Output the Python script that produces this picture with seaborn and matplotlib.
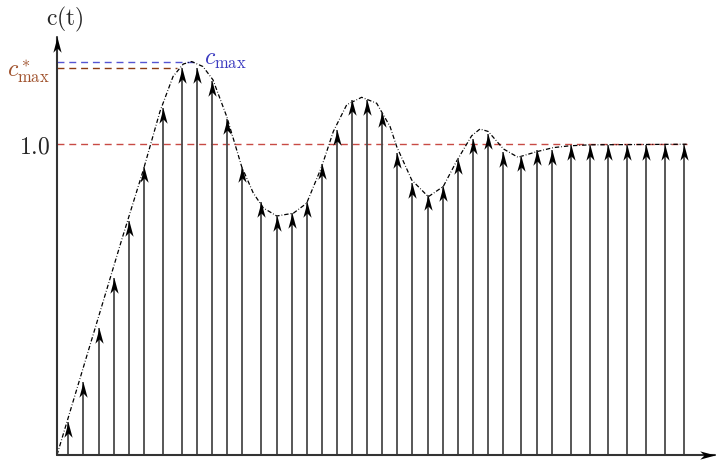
import numpy as np
import seaborn as sns
import matplotlib.pyplot as plt
from matplotlib.path import Path

# sample instants and sampled output c*(t)
t_samp = [0.74, 1.72, 2.73, 3.72, 4.72, 5.70, 6.93, 8.20, 9.16, 10.16,
          11.17, 12.15, 13.38, 14.41, 15.39, 16.37, 17.36, 18.34, 19.32, 20.33,
          21.31, 22.30, 23.30, 24.31, 25.29, 26.28, 27.26, 28.24, 29.25, 30.43,
          31.48, 32.46, 33.69, 34.93, 36.15, 37.38, 38.60, 39.85, 41.10]
c_samp = [0.107, 0.236, 0.410, 0.568, 0.753, 0.926, 1.116, 1.245, 1.245, 1.204,
          1.081, 0.926, 0.814, 0.769, 0.780, 0.814, 0.935, 1.046, 1.143, 1.143,
          1.105, 0.971, 0.874, 0.835, 0.864, 0.952, 1.018, 1.032, 0.976, 0.962,
          0.982, 0.982, 0.997, 0.997, 0.997, 0.997, 0.997, 0.997, 0.997]

# continuous response c(t)
t_cont = [0.0, 4.24, 5.66, 6.75, 7.61, 8.28, 8.83, 9.57, 10.23, 11.13,
          12.11, 12.87, 13.53, 14.41, 15.50, 16.37, 17.36, 18.12, 19.00, 19.98,
          20.96, 21.84, 22.28, 23.26, 24.35, 25.33, 26.21, 27.19, 27.74, 28.28,
          29.27, 30.23, 31.46, 32.54, 33.64, 34.95, 41.29]
c_cont = [0.0, 0.692, 0.917, 1.105, 1.218, 1.258, 1.266, 1.250, 1.207, 1.089,
          0.928, 0.843, 0.795, 0.769, 0.778, 0.810, 0.928, 1.041, 1.127, 1.151,
          1.132, 1.057, 0.992, 0.885, 0.831, 0.864, 0.946, 1.027, 1.049, 1.041,
          0.985, 0.958, 0.976, 0.989, 0.995, 0.998, 1.0]

c_final = 1.0
c_max = 1.266
c_star_max = 1.245

sns.set_theme(style='white')
plt.rcParams['mathtext.fontset'] = 'cm'
plt.rcParams['font.family'] = ['DejaVu Serif']

fig = plt.figure(figsize=(7.2, 4.63), dpi=100)
ax = fig.add_axes([57 / 720, 8 / 463, 658 / 720, 418 / 463])
ax.set_xlim(0, 43.15)
ax.set_ylim(0, 1.345)
for s in ax.spines.values():
    s.set_visible(False)
ax.set_xticks([])

# reference lines
dash = (0, (5, 3.5))
ax.plot([0, 41.3], [c_final, c_final], color='#c84a44', lw=1.0, ls=dash)
ax.plot([0, 9.2], [c_max, c_max], color='#5555d2', lw=1.0, ls=dash)
ax.plot([0, 7.9], [c_star_max, c_star_max], color='#8c3a12', lw=1.0, ls=dash)

# continuous response
sns.lineplot(x=t_cont, y=c_cont, ax=ax, color='black', lw=0.9,
             linestyle=(0, (3.5, 1.6, 0.6, 1.6)), sort=False)

# stealth arrow heads (tip at the data point)
codes = [Path.MOVETO, Path.LINETO, Path.LINETO, Path.LINETO, Path.CLOSEPOLY]
head_up = Path([(0, 0), (-0.27, -1), (0, -0.72), (0.27, -1), (0, 0)], codes)
head_right = Path([(0, 0), (-1, 0.27), (-0.72, 0), (-1, -0.27), (0, 0)], codes)

# sampled impulses
ax.vlines(t_samp, 0, c_samp, color='#4a4a4a', lw=1.3)
ax.scatter(t_samp, c_samp, marker=head_up, s=22 ** 2, color='black',
           linewidths=0, zorder=5)

# axes with arrows
ax.plot([0, 1], [0, 0], transform=ax.transAxes, color='#333333', lw=1.5,
        clip_on=False)
ax.plot([0, 0], [0, 1], transform=ax.transAxes, color='#333333', lw=1.5,
        clip_on=False)
ax.scatter([0], [1], marker=head_up, s=22 ** 2, color='black', linewidths=0,
           transform=ax.transAxes, clip_on=False, zorder=6)
ax.scatter([1], [0], marker=head_right, s=22 ** 2, color='black', linewidths=0,
           transform=ax.transAxes, clip_on=False, zorder=6)

ax.set_yticks([c_final, c_star_max])
ax.set_yticklabels([r'$1.0$', r'$c^*_{\max}$'], fontsize=17)
ax.get_yticklabels()[1].set_color('#a0522d')
ax.tick_params(axis='y', length=0, pad=5)

ax.text(0.5, 1.355, r'$\mathrm{c(t)}$', fontsize=17, ha='center', va='bottom',
        clip_on=False)
ax.text(9.65, c_max + 0.008, r'$c_{\max}$', fontsize=17, color='#3a3ac0',
        ha='left', va='center')

fig.savefig('out.png', dpi=100)
